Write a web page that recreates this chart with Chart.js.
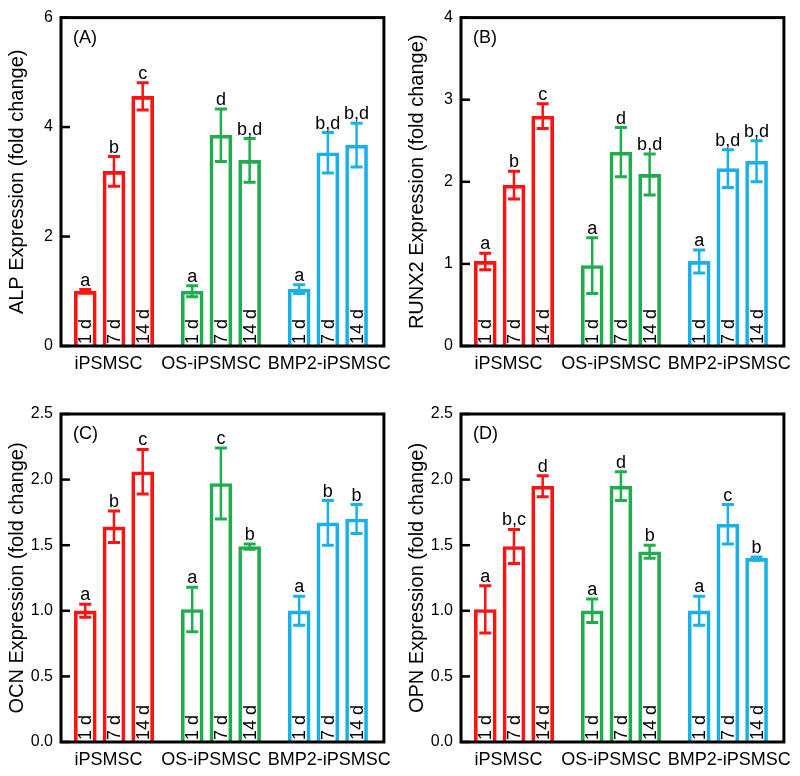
<!DOCTYPE html>
<html>
<head>
<meta charset="utf-8">
<script src="https://cdn.jsdelivr.net/npm/chart.js@4.4.1/dist/chart.umd.min.js"></script>
<style>
  html, body { margin: 0; padding: 0; background: #fff; }
  #wrap { position: relative; width: 800px; height: 776px; }
  canvas { position: absolute; }
</style>
</head>
<body>
<div id="wrap">
  <canvas id="chartA" width="400" height="388" style="left:0;top:0"></canvas>
  <canvas id="chartB" width="400" height="388" style="left:400px;top:0"></canvas>
  <canvas id="chartC" width="400" height="388" style="left:0;top:388px"></canvas>
  <canvas id="chartD" width="400" height="388" style="left:400px;top:388px"></canvas>
</div>
<script>
const groups = ['iPSMSC', 'OS-iPSMSC', 'BMP2-iPSMSC'];
const days = ['1 d', '7 d', '14 d'];
const colors = ['#ff1212', '#1fad4e', '#19b0ec'];

// values ordered iPSMSC 1/7/14 d, OS-iPSMSC 1/7/14 d, BMP2-iPSMSC 1/7/14 d
const alpMean = [1.00, 3.19, 4.56, 1.00, 3.85, 3.39, 1.04, 3.53, 3.67];
const alpErr  = [0.03, 0.27, 0.25, 0.10, 0.48, 0.40, 0.08, 0.37, 0.40];
const alpSig  = ['a', 'b', 'c', 'a', 'd', 'b,d', 'a', 'b,d', 'b,d'];

const runx2Mean = [1.03, 1.96, 2.80, 0.98, 2.36, 2.09, 1.03, 2.16, 2.25];
const runx2Err  = [0.10, 0.17, 0.15, 0.34, 0.30, 0.25, 0.14, 0.23, 0.25];
const runx2Sig  = ['a', 'b', 'c', 'a', 'd', 'b,d', 'a', 'b,d', 'b,d'];

const ocnMean = [1.00, 1.64, 2.06, 1.01, 1.97, 1.49, 1.00, 1.67, 1.70];
const ocnErr  = [0.05, 0.12, 0.17, 0.17, 0.27, 0.02, 0.11, 0.17, 0.11];
const ocnSig  = ['a', 'b', 'c', 'a', 'c', 'b', 'a', 'b', 'b'];

const opnMean = [1.01, 1.49, 1.95, 1.00, 1.95, 1.45, 1.00, 1.66, 1.40];
const opnErr  = [0.18, 0.13, 0.08, 0.09, 0.11, 0.05, 0.11, 0.15, 0.01];
const opnSig  = ['a', 'b,c', 'd', 'a', 'd', 'b', 'a', 'c', 'b'];

const FONT = 'Liberation Sans, Arial, sans-serif';
const groupStep = 3.724;
// group labels sit a little off the group centre in the original
const labelShift = [-0.19, -0.34, 0.05];

const extras = {
  id: 'extras',
  afterDatasetsDraw(chart, args, opts) {
    const ctx = chart.ctx, a = chart.chartArea, y = chart.scales.y;
    ctx.save();
    chart.data.datasets.forEach((ds, g) => {
      chart.getDatasetMeta(g).data.forEach((bar, j) => {
        const k = g * 3 + j;
        const v = ds.data[j].y, e = opts.err[k];
        const top = y.getPixelForValue(v + e), bot = y.getPixelForValue(v - e);
        ctx.strokeStyle = ds.borderColor;
        ctx.lineWidth = 2.5;
        ctx.beginPath();
        ctx.moveTo(bar.x, top); ctx.lineTo(bar.x, bot);
        ctx.stroke();
        ctx.lineWidth = 3;
        ctx.beginPath();
        ctx.moveTo(bar.x - 6, top); ctx.lineTo(bar.x + 6, top);
        ctx.moveTo(bar.x - 6, bot); ctx.lineTo(bar.x + 6, bot);
        ctx.stroke();

        ctx.fillStyle = '#000';
        ctx.font = '18px ' + FONT;
        ctx.textAlign = 'center';
        ctx.textBaseline = 'alphabetic';
        ctx.fillText(opts.sig[k], bar.x, top - 4);

        ctx.save();
        ctx.translate(bar.x, a.bottom - 2);
        ctx.rotate(-Math.PI / 2);
        ctx.textAlign = 'left';
        ctx.textBaseline = 'middle';
        ctx.fillText(days[j], 0, 1);
        ctx.restore();
      });
    });

    ctx.strokeStyle = '#000';
    ctx.lineWidth = 3;
    ctx.strokeRect(a.left, a.top, a.right - a.left, a.bottom - a.top);
    ctx.lineWidth = 2.5;
    y.ticks.forEach(t => {
      const py = y.getPixelForValue(t.value);
      ctx.beginPath();
      ctx.moveTo(a.left, py); ctx.lineTo(a.left + 9, py);
      ctx.stroke();
    });

    ctx.fillStyle = '#000';
    ctx.font = '18px ' + FONT;
    ctx.textAlign = 'left';
    ctx.textBaseline = 'alphabetic';
    ctx.fillText(opts.tag, a.left + 12, a.top + 25);
    ctx.restore();
  }
};

function makePanel(id, title, tag, mean, err, sig, yMax, yStep, decimals, topPad, xHeight) {
  const datasets = groups.map((g, gi) => ({
    label: g,
    data: days.map((d, j) => ({ x: gi * groupStep + j, y: mean[gi * 3 + j] })),
    backgroundColor: 'rgba(255,255,255,0)',
    borderColor: colors[gi],
    borderWidth: 3,
    borderSkipped: 'start',
    grouped: false,
    categoryPercentage: 1,
    barPercentage: 1,
    maxBarThickness: 22
  }));
  return new Chart(document.getElementById(id), {
    type: 'bar',
    data: { datasets: datasets },
    options: {
      responsive: false,
      animation: false,
      layout: { padding: { left: 0, right: 13, top: topPad, bottom: 0 } },
      plugins: {
        legend: { display: false },
        tooltip: { enabled: false },
        extras: { err: err, sig: sig, tag: tag }
      },
      scales: {
        x: {
          type: 'linear',
          min: -0.845,
          max: 10.40,
          offset: false,
          grid: { display: false, drawTicks: false },
          border: { display: false },
          afterBuildTicks: s => { s.ticks = groups.map((g, i) => ({ value: i * groupStep + 1 + labelShift[i] })); },
          afterFit: s => { s.height = xHeight; },
          ticks: {
            autoSkip: false,
            maxRotation: 0,
            padding: 7,
            color: '#000',
            font: { family: FONT, size: 18 },
            callback: (v, i) => groups[i]
          }
        },
        y: {
          min: 0,
          max: yMax,
          grid: { display: false, drawTicks: false },
          border: { display: false },
          afterFit: s => { s.width = 61; },
          title: {
            display: true,
            text: title,
            color: '#000',
            font: { family: FONT, size: 20 },
            padding: { top: 5, bottom: 0 }
          },
          ticks: {
            stepSize: yStep,
            padding: 8,
            color: '#000',
            font: { family: FONT, size: 16 },
            callback: v => v.toFixed(decimals)
          }
        }
      }
    },
    plugins: [extras]
  });
}

makePanel('chartA', 'ALP Expression (fold change)', '(A)', alpMean, alpErr, alpSig, 6, 2, 0, 16, 42);
makePanel('chartB', 'RUNX2 Expression (fold change)', '(B)', runx2Mean, runx2Err, runx2Sig, 4, 1, 0, 16, 42);
makePanel('chartC', 'OCN Expression (fold change)', '(C)', ocnMean, ocnErr, ocnSig, 2.5, 0.5, 1, 26, 34);
makePanel('chartD', 'OPN Expression (fold change)', '(D)', opnMean, opnErr, opnSig, 2.5, 0.5, 1, 26, 34);
</script>
</body>
</html>
